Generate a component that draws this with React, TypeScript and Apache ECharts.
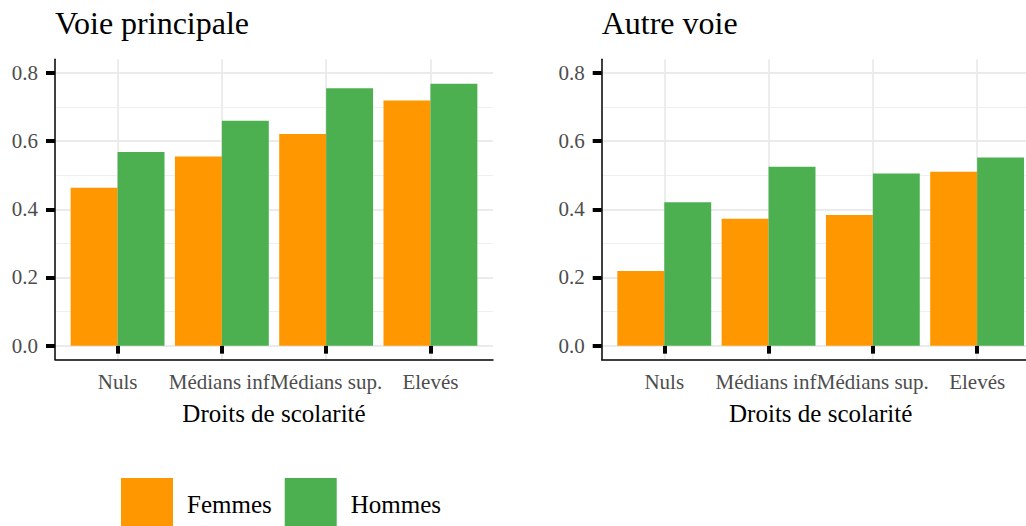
import React, { useEffect, useRef } from "react";
import * as echarts from "echarts";

const categories = ["Nuls", "Médians inf.", "Médians sup.", "Elevés"];
const panelTitles = ["Voie principale", "Autre voie"];
const seriesNames = ["Femmes", "Hommes"];
const femmesPrincipale = [0.463, 0.555, 0.621, 0.719];
const hommesPrincipale = [0.568, 0.66, 0.755, 0.768];
const femmesAutre = [0.219, 0.372, 0.383, 0.51];
const hommesAutre = [0.421, 0.525, 0.505, 0.552];
const yMin = 0;
const yMax = 0.8;
const yStep = 0.2;
const xTitle = "Droits de scolarité";

const FONT = "Liberation Serif";
const COLORS = ["#FF9800", "#4CAF50"];

export default function App() {
  const ref = useRef<HTMLDivElement>(null);
  useEffect(() => {
    if (!ref.current) return;
    const chart = echarts.init(ref.current, null, { renderer: "svg" });

    const panelLefts = [55, 601.7];
    const PW = 438;
    const top = 59.3;
    const H = 300;
    const expand = (yMax - yMin) * 0.05;
    const fullMin = yMin - expand;
    const fullMax = yMax + expand;
    const span = fullMax - fullMin;
    const band = PW / (categories.length + 0.2);

    const grids: any[] = [];
    const xAxes: any[] = [];
    const yAxes: any[] = [];
    const series: any[] = [];
    const data = [
      [femmesPrincipale, hommesPrincipale],
      [femmesAutre, hommesAutre],
    ];

    panelLefts.forEach((L, p) => {
      grids.push({ left: L, top, width: PW, height: H });
      grids.push({ left: L + 0.6 * band, top, width: band * (categories.length - 1), height: H });
      const labTop = top + (H * (fullMax - yMax)) / span;
      const labH = (H * (yMax - yMin)) / span;
      grids.push({ left: L, top: labTop, width: PW, height: labH });

      const g = p * 3;
      xAxes.push({
        type: "value", gridIndex: g, min: 0, max: 1,
        axisLine: { show: true, onZero: false, lineStyle: { color: "#000", width: 1.5 } },
        axisTick: { show: false }, axisLabel: { show: false }, splitLine: { show: false },
      });
      yAxes.push({
        type: "value", gridIndex: g, min: 0, max: 1,
        axisLine: { show: true, onZero: false, lineStyle: { color: "#000", width: 1.5 } },
        axisTick: { show: false }, axisLabel: { show: false }, splitLine: { show: false },
      });

      xAxes.push({
        type: "category", gridIndex: g + 1, data: categories, boundaryGap: false,
        axisLine: { show: false },
        axisTick: { show: true, interval: 0, length: 8, lineStyle: { color: "#000", width: 4 } },
        axisLabel: { interval: 0, fontSize: 21, color: "#4D4D4D", margin: 12, fontFamily: FONT },
        splitLine: { show: true, interval: 0, lineStyle: { color: "#EBEBEB", width: 1.8 } },
        name: xTitle, nameLocation: "middle", nameGap: 42,
        nameTextStyle: { fontSize: 25, color: "#000", fontFamily: FONT },
      });
      yAxes.push({ type: "value", gridIndex: g + 1, min: fullMin, max: fullMax, show: false });

      xAxes.push({ type: "value", gridIndex: g + 2, show: false });
      yAxes.push({
        type: "value", gridIndex: g + 2, min: yMin, max: yMax, interval: yStep,
        axisLine: { show: false },
        axisTick: { show: true, length: 9, lineStyle: { color: "#000", width: 4 } },
        axisLabel: {
          fontSize: 21, color: "#4D4D4D", margin: 17, fontFamily: FONT,
          formatter: (v: number) => v.toFixed(1),
        },
        splitLine: { show: true, lineStyle: { color: "#EBEBEB", width: 1.8 } },
        minorTick: { show: false, splitNumber: 2 },
        minorSplitLine: { show: true, lineStyle: { color: "#EFEFEF", width: 1.2 } },
      });

      seriesNames.forEach((name, s) => {
        series.push({
          type: "bar", name, xAxisIndex: g + 1, yAxisIndex: g + 1,
          data: data[p][s], barWidth: "45%", barGap: "0%",
          itemStyle: { color: COLORS[s] },
        });
      });
    });

    chart.setOption({
      animation: false,
      backgroundColor: "#fff",
      title: panelTitles.map((t, i) => ({
        text: t, left: panelLefts[i], top: 7, padding: 0,
        textStyle: { fontSize: 32, fontWeight: "normal", color: "#000", fontFamily: FONT },
      })),
      legend: {
        data: seriesNames, left: 121, top: 478, padding: 0,
        itemWidth: 52, itemHeight: 52, itemGap: 13,
        icon: "rect",
        textStyle: { fontSize: 25, color: "#000", fontFamily: FONT, padding: [0, 0, 0, 9] },
      },
      grid: grids,
      xAxis: xAxes,
      yAxis: yAxes,
      series,
    });
    return () => chart.dispose();
  }, []);
  return (
    <div
      ref={ref}
      style={{ position: "absolute", left: 0, top: 0, width: 1026, height: 526 }}
    />
  );
}
